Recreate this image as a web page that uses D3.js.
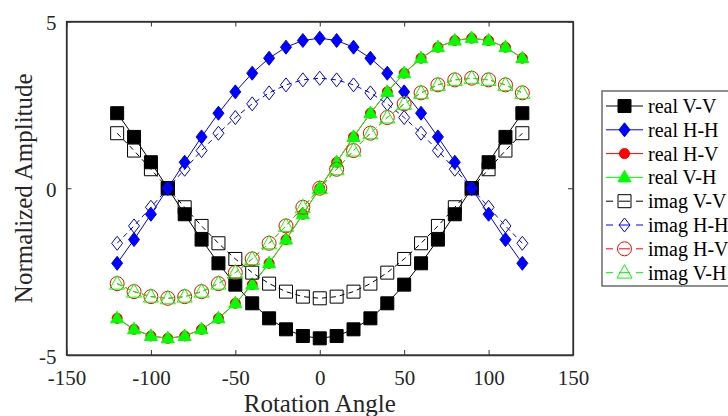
<!DOCTYPE html>
<html><head><meta charset="utf-8">
<script src="https://cdn.jsdelivr.net/npm/d3@7"></script>
<style>body{margin:0;background:#fff}svg{display:block}</style>
</head><body>
<script>
const angles = [-120,-110,-100,-90,-80,-70,-60,-50,-40,-30,-20,-10,0,10,20,30,40,50,60,70,80,90,100,110,120];
const realVV = [2.25,1.54,0.78,0,-0.78,-1.54,-2.25,-2.89,-3.45,-3.90,-4.23,-4.43,-4.50,-4.43,-4.23,-3.90,-3.45,-2.89,-2.25,-1.54,-0.78,0,0.78,1.54,2.25];
const realHH = [-2.25,-1.54,-0.78,0,0.78,1.54,2.25,2.89,3.45,3.90,4.23,4.43,4.50,4.43,4.23,3.90,3.45,2.89,2.25,1.54,0.78,0,-0.78,-1.54,-2.25];
const realHV = [-3.90,-4.23,-4.43,-4.50,-4.43,-4.23,-3.90,-3.45,-2.89,-2.25,-1.54,-0.78,0,0.78,1.54,2.25,2.89,3.45,3.90,4.23,4.43,4.50,4.43,4.23,3.90];
const realVH = [-3.90,-4.23,-4.43,-4.50,-4.43,-4.23,-3.90,-3.45,-2.89,-2.25,-1.54,-0.78,0,0.78,1.54,2.25,2.89,3.45,3.90,4.23,4.43,4.50,4.43,4.23,3.90];
const imagVV = [1.65,1.13,0.57,0,-0.57,-1.13,-1.65,-2.12,-2.53,-2.86,-3.10,-3.25,-3.30,-3.25,-3.10,-2.86,-2.53,-2.12,-1.65,-1.13,-0.57,0,0.57,1.13,1.65];
const imagHH = [-1.65,-1.13,-0.57,0,0.57,1.13,1.65,2.12,2.53,2.86,3.10,3.25,3.30,3.25,3.10,2.86,2.53,2.12,1.65,1.13,0.57,0,-0.57,-1.13,-1.65];
const imagHV = [-2.86,-3.10,-3.25,-3.30,-3.25,-3.10,-2.86,-2.53,-2.12,-1.65,-1.13,-0.57,0,0.57,1.13,1.65,2.12,2.53,2.86,3.10,3.25,3.30,3.25,3.10,2.86];
const imagVH = [-2.86,-3.10,-3.25,-3.30,-3.25,-3.10,-2.86,-2.53,-2.12,-1.65,-1.13,-0.57,0,0.57,1.13,1.65,2.12,2.53,2.86,3.10,3.25,3.30,3.25,3.10,2.86];
const seriesNames = ["real V-V","real H-H","real H-V","real V-H","imag V-V","imag H-H","imag H-V","imag V-H"];
const xTicks = [-150,-100,-50,0,50,100,150];
const yTicks = [-5,0,5];

const seriesData = [realVV, realHH, realHV, realVH, imagVV, imagHH, imagHV, imagVH];
const styles = [
  {color:"#000000", marker:"square", filled:true, dash:null},
  {color:"#0000ff", marker:"diamond", filled:true, dash:null},
  {color:"#ff0000", marker:"circle", filled:true, dash:null},
  {color:"#00ff00", marker:"triangle", filled:true, dash:null},
  {color:"#000000", marker:"square", filled:false, dash:"5,4"},
  {color:"#0000ff", marker:"diamond", filled:false, dash:"5,4"},
  {color:"#ff0000", marker:"circle", filled:false, dash:"5,4"},
  {color:"#00ff00", marker:"triangle", filled:false, dash:"5,4"}
];

function markerPath(type, filled){
  if(type==="square"){ const h = 6.5; return `M${-h},${-h}H${h}V${h}H${-h}Z`; }
  if(type==="diamond"){ const w=5.5, h=7; return `M0,${-h}L${w},0L0,${h}L${-w},0Z`; }
  if(type==="circle"){ const r=filled?5:7; return `M${r},0A${r},${r} 0 1,1 ${-r},0A${r},${r} 0 1,1 ${r},0Z`; }
  if(type==="triangle"){ const w=filled?6.5:7.5, t=filled?7:8, b=filled?4.5:5.5; return `M0,${-t}L${w},${b}L${-w},${b}Z`; }
}

const W=728, H=416;
const m = {l:66.5, r:573, t:21.5, b:355};
const svg = d3.select("body").append("svg").attr("width",W).attr("height",H);
const x = d3.scaleLinear().domain([-150,150]).range([m.l,m.r]);
const y = d3.scaleLinear().domain([-5,5]).range([m.b,m.t]);
const font = "'Liberation Serif','Times New Roman',serif";

// axes box
const axisColor = "#333333";
svg.append("rect").attr("x",m.l).attr("y",m.t).attr("width",m.r-m.l).attr("height",m.b-m.t)
  .attr("fill","#fff").attr("stroke",axisColor).attr("stroke-width",1.3);

const xAxis = d3.axisBottom(x).tickValues(xTicks).tickSizeInner(-5).tickSizeOuter(0).tickPadding(15).tickFormat(d3.format("d"));
const gx = svg.append("g").attr("transform",`translate(0,${m.b})`).call(xAxis);
const xTop = d3.axisTop(x).tickValues(xTicks).tickSizeInner(-5).tickSizeOuter(0).tickFormat("");
const gxt = svg.append("g").attr("transform",`translate(0,${m.t})`).call(xTop);
const yAxis = d3.axisLeft(y).tickValues(yTicks).tickSizeInner(-5).tickSizeOuter(0).tickPadding(10).tickFormat(d3.format("d"));
const gy = svg.append("g").attr("transform",`translate(${m.l},0)`).call(yAxis);
const yRight = d3.axisRight(y).tickValues(yTicks).tickSizeInner(-5).tickSizeOuter(0).tickFormat("");
const gyr = svg.append("g").attr("transform",`translate(${m.r},0)`).call(yRight);
[gx,gxt,gy,gyr].forEach(g=>{
  g.attr("font-family",font).attr("font-size",21);
  g.select(".domain").attr("stroke",axisColor).attr("stroke-width",1.3);
  g.selectAll(".tick line").attr("stroke",axisColor);
  g.selectAll("text").attr("font-family",font).attr("font-size",21).attr("fill","#262626");
});
gx.selectAll("text").text(d=>d<0?"-"+Math.abs(d):d);
gy.selectAll("text").text(d=>d<0?"-"+Math.abs(d):d).attr("dy","0.4em");

// axis titles
svg.append("text").attr("x",(m.l+m.r)/2).attr("y",412).attr("text-anchor","middle")
  .attr("font-family",font).attr("font-size",25).attr("fill","#262626").text("Rotation Angle");
svg.append("text").attr("transform",`translate(32,${(m.t+m.b)/2}) rotate(-90)`).attr("text-anchor","middle")
  .attr("font-family",font).attr("font-size",25).attr("fill","#262626").text("Normalized Amplitude");

// series
const line = d3.line().x(d=>x(d[0])).y(d=>y(d[1]));
seriesData.forEach((vals,i)=>{
  const st = styles[i];
  const pts = angles.map((a,j)=>[a,vals[j]]);
  const g = svg.append("g");
  g.append("path").datum(pts).attr("d",line).attr("fill","none").attr("stroke",st.color)
    .attr("stroke-width",1).attr("stroke-dasharray",st.dash);
  g.selectAll("path.mk").data(pts).enter().append("path").attr("class","mk")
    .attr("d",markerPath(st.marker, st.filled))
    .attr("transform",d=>`translate(${x(d[0])},${y(d[1])})`)
    .attr("fill",st.filled?st.color:"none").attr("stroke",st.color).attr("stroke-width",1);
});

// legend
const lg = svg.append("g");
const lx=602, ly=91, rowH=23.8;
lg.append("rect").attr("x",lx).attr("y",ly).attr("width",140).attr("height",195)
  .attr("fill","#fff").attr("stroke","#555").attr("stroke-width",1.3);
seriesNames.forEach((name,i)=>{
  const st = styles[i];
  const cy = 106 + i*rowH;
  if(st.dash){
    lg.append("line").attr("x1",606).attr("x2",613).attr("y1",cy).attr("y2",cy).attr("stroke",st.color).attr("stroke-width",1);
    lg.append("line").attr("x1",636).attr("x2",643).attr("y1",cy).attr("y2",cy).attr("stroke",st.color).attr("stroke-width",1);
  } else {
    lg.append("line").attr("x1",606).attr("x2",643).attr("y1",cy).attr("y2",cy).attr("stroke",st.color).attr("stroke-width",1);
  }
  lg.append("path").attr("d",markerPath(st.marker, st.filled)).attr("transform",`translate(624.5,${cy})`)
    .attr("fill",st.filled?st.color:"#fff").attr("stroke",st.color).attr("stroke-width",1);
  if(!st.filled) lg.append("line").attr("x1",619).attr("x2",630).attr("y1",cy).attr("y2",cy).attr("stroke",st.color).attr("stroke-width",1);
  lg.append("text").attr("x",648).attr("y",cy+7).attr("font-family",font).attr("font-size",20)
    .attr("fill","#000").text(name);
});
</script>
</body></html>
